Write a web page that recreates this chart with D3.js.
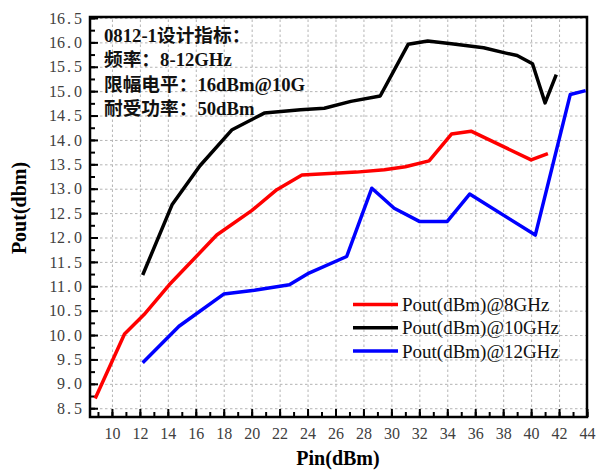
<!DOCTYPE html>
<html>
<head>
<meta charset="utf-8">
<script src="https://cdn.jsdelivr.net/npm/d3@7"></script>
<style>
  body { margin: 0; background: #fff; }
  svg { display: block; }
  .grid line { stroke: #b4b4b4; stroke-width: 1; stroke-dasharray: 2.5 2.5; }
  .grid path { display: none; }
</style>
</head>
<body>
<svg id="chart" width="596" height="472"></svg>
<script>
// Series data (Pin in dBm, Pout in dBm)
var pin8 = [8.8, 10.9, 12.3, 14.1, 17.5, 20.0, 21.8, 23.6, 27.5, 29.5, 31.0, 32.7, 34.3, 35.7, 40.0, 41.2];
var pout8 = [8.70, 10.02, 10.42, 11.03, 12.05, 12.55, 12.98, 13.28, 13.34, 13.39, 13.45, 13.57, 14.12, 14.18, 13.59, 13.72];

var pin10 = [12.2, 14.3, 16.3, 18.6, 20.9, 23.5, 25.2, 27.1, 29.2, 31.2, 32.6, 34.3, 36.6, 38.2, 39.0, 40.1, 41.0, 41.8];
var pout10 = [11.23, 12.67, 13.47, 14.21, 14.55, 14.62, 14.65, 14.79, 14.90, 15.96, 16.03, 15.97, 15.89, 15.78, 15.73, 15.56, 14.76, 15.34];

var pin12 = [12.2, 14.8, 18.0, 20.2, 22.7, 24.1, 26.8, 28.6, 30.2, 32.0, 34.0, 35.6, 40.3, 42.8, 43.9];
var pout12 = [9.43, 10.18, 10.84, 10.92, 11.03, 11.27, 11.61, 13.01, 12.60, 12.33, 12.33, 12.89, 12.05, 14.93, 15.01];

var seriesNames = ['Pout(dBm)@8GHz', 'Pout(dBm)@10GHz', 'Pout(dBm)@12GHz'];
var seriesColors = ['#ff0000', '#000000', '#0000ff'];

// Axis ticks
var xMajor = d3.range(10, 45, 2);
var xMinor = d3.range(9, 45, 1);
var yMajor = d3.range(8.5, 16.51, 0.5);
var yMinor = d3.range(8.5, 16.51, 0.25);

var noteLines = ['0812-1设计指标：', '频率：8-12GHz', '限幅电平：16dBm@10G', '耐受功率：50dBm'];

// Layout
var svg = d3.select('#chart');
var margin = { left: 90, right: 9, top: 17, bottom: 55 };
var width = 596 - margin.left - margin.right;
var height = 472 - margin.top - margin.bottom;

var x = d3.scaleLinear().domain([8.43, 44]).range([0, width]);
var y = d3.scaleLinear().domain([8.32, 16.52]).range([height, 0]);

var g = svg.append('g').attr('transform', 'translate(' + margin.left + ',' + margin.top + ')');

// Grid
g.append('g')
  .attr('class', 'grid')
  .attr('transform', 'translate(0,' + height + ')')
  .call(d3.axisBottom(x).tickValues(xMajor).tickSize(-height).tickFormat(''));
g.append('g')
  .attr('class', 'grid')
  .call(d3.axisLeft(y).tickValues(yMajor).tickSize(-width).tickFormat(''));

// Minor ticks (inward)
g.append('g')
  .attr('transform', 'translate(0,' + height + ')')
  .call(d3.axisBottom(x).tickValues(xMinor).tickSize(-5).tickFormat(''))
  .call(s => s.select('.domain').remove())
  .call(s => s.selectAll('line').attr('stroke', '#000').attr('stroke-width', 2));
g.append('g')
  .call(d3.axisLeft(y).tickValues(yMinor).tickSize(-5).tickFormat(''))
  .call(s => s.select('.domain').remove())
  .call(s => s.selectAll('line').attr('stroke', '#000').attr('stroke-width', 2));

// Major ticks with labels
function styleAxis(s) {
  s.select('.domain').remove();
  s.selectAll('line').attr('stroke', '#000').attr('stroke-width', 2);
  s.attr('font-family', '"Liberation Serif", serif').attr('font-size', 16);
  s.selectAll('text').attr('fill', '#404040');
}

g.append('g')
  .attr('transform', 'translate(0,' + height + ')')
  .call(d3.axisBottom(x).tickValues(xMajor).tickSize(-8).tickPadding(11).tickFormat(d3.format('d')))
  .call(styleAxis);

var yAxisG = g.append('g')
  .call(d3.axisLeft(y).tickValues(yMajor).tickSize(-8).tickPadding(8).tickFormat(d3.format('.1f')))
  .call(styleAxis);

// widen the decimal point like the original's font does
yAxisG.selectAll('.tick text').each(function() {
  var t = d3.select(this);
  var parts = t.text().split('.');
  t.text(null);
  t.append('tspan').text(parts[0]);
  t.append('tspan').attr('dx', 2).text('.');
  t.append('tspan').attr('dx', 3).text(parts[1]);
});

// Frame
g.append('rect')
  .attr('width', width)
  .attr('height', height)
  .attr('fill', 'none')
  .attr('stroke', '#000')
  .attr('stroke-width', 2.5);

// Curves
var line = d3.line().x(d => x(d[0])).y(d => y(d[1]));
var series = [
  d3.zip(pin8, pout8),
  d3.zip(pin10, pout10),
  d3.zip(pin12, pout12)
];
series.forEach((pts, i) => {
  g.append('path')
    .datum(pts)
    .attr('d', line)
    .attr('fill', 'none')
    .attr('stroke', seriesColors[i])
    .attr('stroke-width', 3.5)
    .attr('stroke-linejoin', 'round');
});

// Annotation
var note = svg.append('text')
  .attr('font-family', '"Liberation Serif", "Noto Sans CJK SC", serif')
  .attr('font-weight', 'bold')
  .attr('font-size', 18.7)
  .attr('fill', '#111');
noteLines.forEach((t, i) => {
  note.append('tspan').attr('x', 104).attr('y', 42 + i * 24.4).text(t);
});

// Legend
var legend = svg.append('g').attr('transform', 'translate(353,304.5)');
seriesNames.forEach((name, i) => {
  var row = legend.append('g').attr('transform', 'translate(0,' + (i * 23.3) + ')');
  row.append('line')
    .attr('x1', 0).attr('x2', 45)
    .attr('stroke', seriesColors[i])
    .attr('stroke-width', 3.5);
  row.append('text')
    .attr('x', 49).attr('y', 6.5)
    .attr('font-family', '"Liberation Serif", serif')
    .attr('font-size', 19)
    .attr('fill', '#111')
    .text(name);
});

// Axis titles
svg.append('text')
  .attr('transform', 'translate(26,208) rotate(-90)')
  .attr('text-anchor', 'middle')
  .attr('font-family', '"Liberation Serif", serif')
  .attr('font-weight', 'bold')
  .attr('font-size', 20)
  .text('Pout(dbm)');
svg.append('text')
  .attr('x', 338).attr('y', 465)
  .attr('text-anchor', 'middle')
  .attr('font-family', '"Liberation Serif", serif')
  .attr('font-weight', 'bold')
  .attr('font-size', 20)
  .text('Pin(dBm)');
</script>
</body>
</html>
